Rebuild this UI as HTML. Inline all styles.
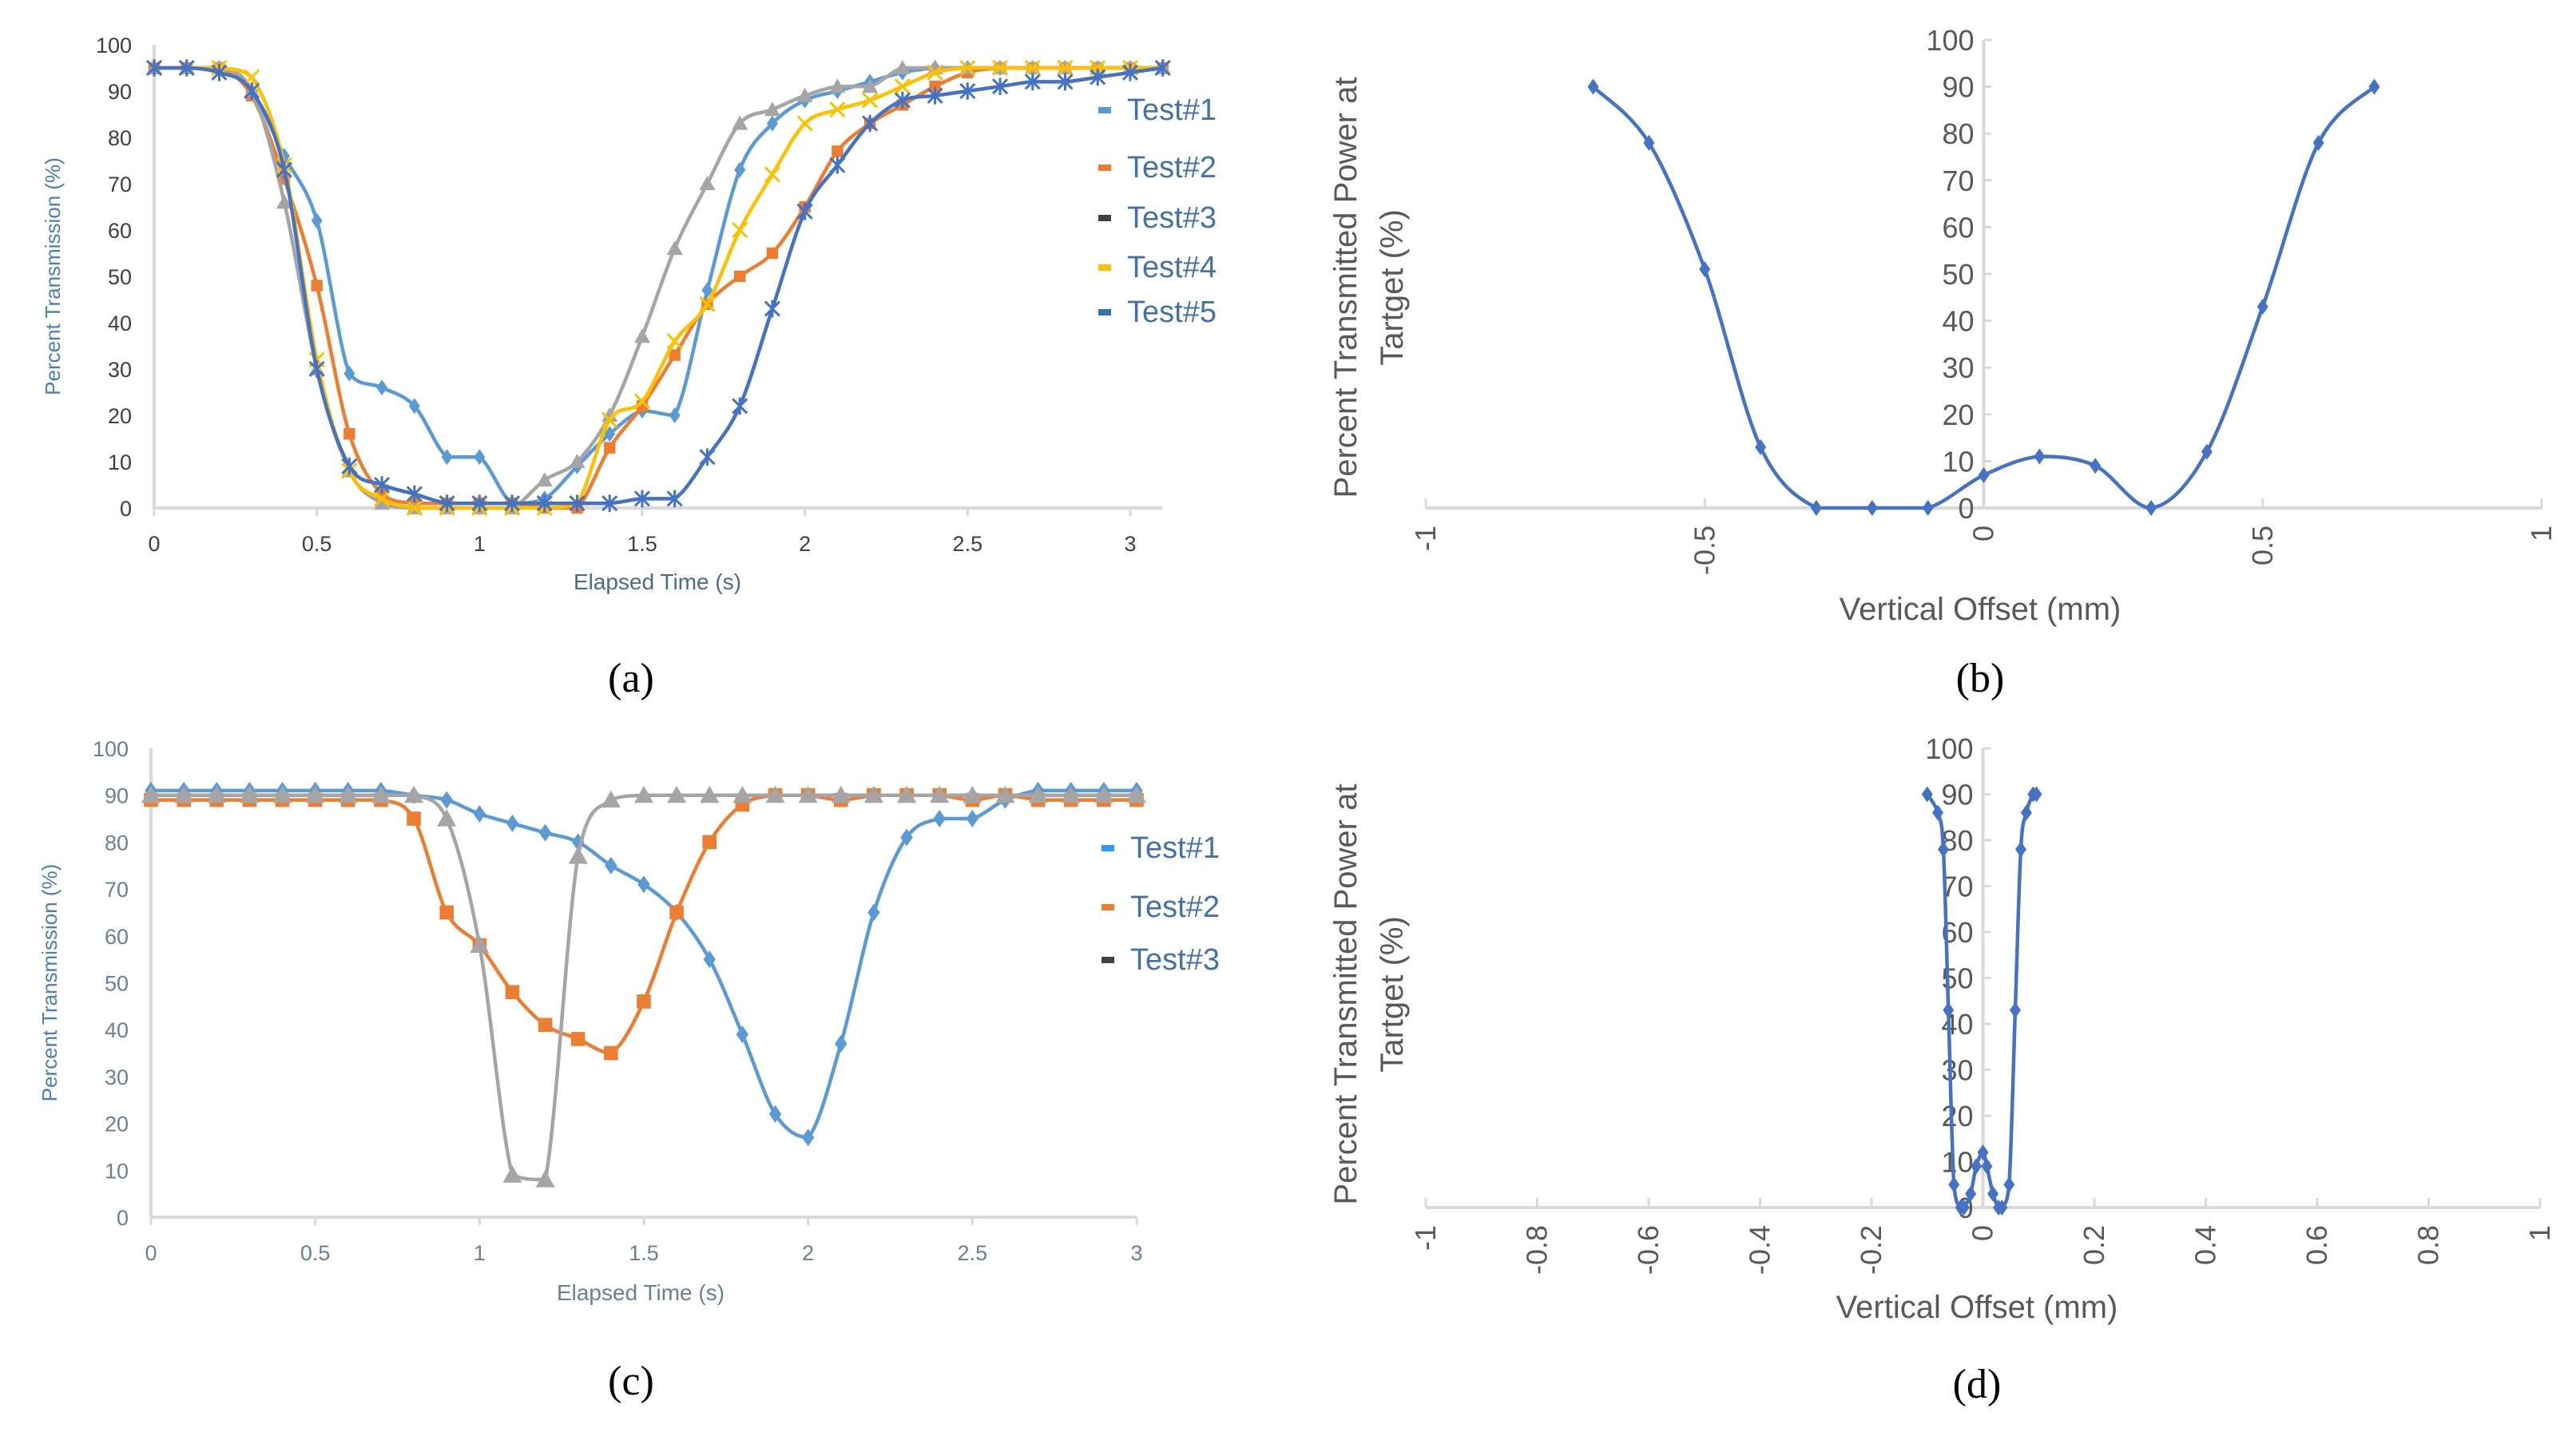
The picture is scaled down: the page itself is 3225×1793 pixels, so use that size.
<!DOCTYPE html>
<html><head><meta charset="utf-8"><style>
html,body{margin:0;padding:0;background:#fff;}
svg{display:block;font-family:"Liberation Sans",sans-serif;}
</style></head><body>
<svg id="fig" width="3225" height="1793" viewBox="0 0 3225 1793" xmlns="http://www.w3.org/2000/svg">
<rect width="3225" height="1793" fill="#fff"/>
</svg>
<script>
// ---- Chart (a) data ----
const aX = [0,0.1,0.2,0.3,0.4,0.5,0.6,0.7,0.8,0.9,1,1.1,1.2,1.3,1.4,1.5,1.6,1.7,1.8,1.9,2,2.1,2.2,2.3,2.4,2.5,2.6,2.7,2.8,2.9,3,3.1];
const aTest1 = [95,95,95,90,76,62,29,26,22,11,11,1,2,9,16,21,20,47,73,83,88,90,92,94,95,95,95,95,95,95,95,95];
const aTest2 = [95,95,95,89,71,48,16,3,1,1,1,1,0,0,13,22,33,44,50,55,65,77,83,87,91,94,95,95,95,95,95,95];
const aTest3 = [95,95,95,90,66,30,8,1,0,0,0,0,6,10,20,37,56,70,83,86,89,91,91,95,95,95,95,95,95,95,95,95];
const aTest4 = [95,95,95,93,74,32,8,2,0,0,0,0,0,1,19,23,36,44,60,72,83,86,88,91,94,95,95,95,95,95,95,95];
const aTest5 = [95,95,94,90,73,30,9,5,3,1,1,1,1,1,1,2,2,11,22,43,64,74,83,88,89,90,91,92,92,93,94,95];
const aXTicks = ["0","0.5","1","1.5","2","2.5","3"];
const aYTicks = ["0","10","20","30","40","50","60","70","80","90","100"];
// ---- Chart (b) data ----
const bX = [-0.7,-0.6,-0.5,-0.4,-0.3,-0.2,-0.1,0,0.1,0.2,0.3,0.4,0.5,0.6,0.7];
const bY = [90,78,51,13,0,0,0,7,11,9,0,12,43,78,90];
const bXTicks = ["-1","-0.5","0","0.5","1"];
// ---- Chart (c) data ----
const cX = [0,0.1,0.2,0.3,0.4,0.5,0.6,0.7,0.8,0.9,1,1.1,1.2,1.3,1.4,1.5,1.6,1.7,1.8,1.9,2,2.1,2.2,2.3,2.4,2.5,2.6,2.7,2.8,2.9,3];
const cTest1 = [91,91,91,91,91,91,91,91,90,89,86,84,82,80,75,71,65,55,39,22,17,37,65,81,85,85,89,91,91,91,91];
const cTest2 = [89,89,89,89,89,89,89,89,85,65,58,48,41,38,35,46,65,80,88,90,90,89,90,90,90,89,90,89,89,89,89];
const cTest3 = [90,90,90,90,90,90,90,90,90,85,58,9,8,77,89,90,90,90,90,90,90,90,90,90,90,90,90,90,90,90,90];
// ---- Chart (d) data ----
const dX = [-0.1,-0.081,-0.071,-0.062,-0.052,-0.04,-0.034,-0.022,-0.012,0,0.007,0.018,0.028,0.034,0.047,0.058,0.068,0.078,0.09,0.096];
const dY = [90,86,78,43,5,0,0,3,9,12,9,3,0,0,5,43,78,86,90,90];
const dXTicks = ["-1","-0.8","-0.6","-0.4","-0.2","0","0.2","0.4","0.6","0.8","1"];

const NS="http://www.w3.org/2000/svg";
const svg=document.getElementById('fig');
function mk(tag,attrs,parent,text){const e=document.createElementNS(NS,tag);for(const k in attrs)e.setAttribute(k,attrs[k]);if(text!==undefined)e.textContent=text;(parent||svg).appendChild(e);return e;}
function lin(d0,d1,r0,r1){return v=>r0+(v-d0)*(r1-r0)/(d1-d0);}
function clamp(v,a,b){const lo=Math.min(a,b),hi=Math.max(a,b);return Math.max(lo,Math.min(hi,v));}
function smooth(pts){
  if(pts.length<2)return '';
  let d='M'+pts[0][0]+','+pts[0][1];
  for(let i=0;i<pts.length-1;i++){
    const p0=pts[i-1]||pts[i],p1=pts[i],p2=pts[i+1],p3=pts[i+2]||p2;
    const t=0.5/3;
    const c1=[p1[0]+(p2[0]-p0[0])*t,clamp(p1[1]+(p2[1]-p0[1])*t,p1[1],p2[1])];
    const c2=[p2[0]-(p3[0]-p1[0])*t,clamp(p2[1]-(p3[1]-p1[1])*t,p1[1],p2[1])];
    d+=' C'+c1[0]+','+c1[1]+' '+c2[0]+','+c2[1]+' '+p2[0]+','+p2[1];
  }
  return d;
}
function marker(g,type,x,y,col,s){
  let e;
  if(type==='diamond'){e=mk('path',{d:`M${x},${y-s} L${x+s*0.7},${y} L${x},${y+s} L${x-s*0.7},${y} Z`,fill:col},g);}
  else if(type==='square'){e=mk('rect',{x:x-s*0.8,y:y-s*0.8,width:s*1.6,height:s*1.6,fill:col},g);}
  else if(type==='triangle'){e=mk('path',{d:`M${x},${y-s} L${x+s},${y+s*0.8} L${x-s},${y+s*0.8} Z`,fill:col},g);}
  else if(type==='x'){e=mk('path',{d:`M${x-s},${y-s} L${x+s},${y+s} M${x+s},${y-s} L${x-s},${y+s}`,stroke:col,'stroke-width':3,fill:'none'},g);}
  else if(type==='star'){e=mk('path',{d:`M${x-s},${y-s} L${x+s},${y+s} M${x+s},${y-s} L${x-s},${y+s} M${x},${y-s*1.2} L${x},${y+s*1.2}`,stroke:col,'stroke-width':3,fill:'none'},g);}
  
  
}
function series(g,xs,ys,X,Y,col,mtype,ms,name){
  const pts=xs.map((v,i)=>[X(v),Y(ys[i])]);
  const sg=mk('g',{},g);
  
  
  const p=mk('path',{d:smooth(pts),fill:'none',stroke:col,'stroke-width':4.5,'stroke-linejoin':'round'},sg);
  
  
  pts.forEach(q=>marker(sg,mtype,q[0],q[1],col,ms));
}
function timeChart(cfg){
  const g=mk('g',{});
  
  
  const X=lin(0,3,cfg.x0,cfg.x3),Y=lin(0,100,cfg.y0,cfg.y100);
  const ax=mk('line',{x1:cfg.x0,x2:X(cfg.xmax),y1:cfg.y0,y2:cfg.y0,stroke:'#d9d9d9','stroke-width':4},g);
  
  const ay=mk('line',{x1:cfg.x0,x2:cfg.x0,y1:cfg.y0,y2:cfg.y100,stroke:'#d9d9d9','stroke-width':4},g);
  
  aXTicks.forEach(t=>{
    const x=X(parseFloat(t));
    mk('line',{x1:x,x2:x,y1:cfg.y0,y2:cfg.y0+10,stroke:'#d9d9d9','stroke-width':3},g);
    const e=mk('text',{x:x,y:cfg.y0+54,'text-anchor':'middle','font-size':27,fill:cfg.tickCol},g,t);
    
  });
  aYTicks.forEach(t=>{
    const y=Y(parseFloat(t));
    const e=mk('text',{x:cfg.x0-28,y:y+10,'text-anchor':'end','font-size':27,fill:cfg.tickCol},g,t);
    
  });
  const yt=mk('text',{x:0,y:0,transform:`translate(${cfg.x0-118},${(cfg.y0+cfg.y100)/2}) rotate(-90)`,'text-anchor':'middle','font-size':26,fill:'#4a7ebb'},g,'Percent Transmission (%)');
  
  const xt=mk('text',{x:cfg.xtX,y:cfg.xtY,'text-anchor':'middle','font-size':28,fill:cfg.xTitleCol},g,'Elapsed Time (s)');
  
  cfg.series.forEach(s=>series(g,cfg.xs,s.ys,X,Y,s.col,s.m,s.ms,s.name));
  cfg.series.forEach((s,i)=>{
    const ly=cfg.legY[i];
    const lg=mk('g',{},g);
    
    mk('rect',{x:cfg.legX-36,y:ly-16,width:16,height:8,fill:s.legCol||s.col},lg);
    mk('text',{x:cfg.legX,y:ly,'font-size':38,fill:'#4472a8'},lg,s.label);
  });
  const cap=mk('text',{x:cfg.capX,y:cfg.capY,'text-anchor':'middle','font-size':52,'font-family':'Liberation Serif, serif',fill:'#000'},svg,cfg.cap);
  
}
timeChart({name:'chart-a',x0:193,x3:1415,y0:636,y100:56,xmax:3.1,xs:aX,tickCol:'#404040',xTitleCol:'#4a6a90',
  xtX:823,xtY:738,legX:1411,legY:[150,222,285,347,403],capX:790,capY:866,cap:'(a)',
  series:[
   {ys:aTest1,col:'#5b9bd5',m:'diamond',ms:10,name:'test1-series',label:'Test#1'},
   {ys:aTest2,col:'#ed7d31',m:'square',ms:9,name:'test2-series',label:'Test#2'},
   {ys:aTest3,col:'#a5a5a5',m:'triangle',ms:10,name:'test3-series',label:'Test#3',legCol:'#404040'},
   {ys:aTest4,col:'#ffc000',m:'x',ms:9,name:'test4-series',label:'Test#4'},
   {ys:aTest5,col:'#4472c4',m:'star',ms:9,name:'test5-series',label:'Test#5',legCol:'#2e75b6'}]});
timeChart({name:'chart-c',x0:189,x3:1423,y0:1524,y100:937,xmax:3,xs:cX,tickCol:'#6b7f95',xTitleCol:'#6b7f95',
  xtX:802,xtY:1628,legX:1415,legY:[1074,1148,1214],capX:790,capY:1746,cap:'(c)',
  series:[
   {ys:cTest1,col:'#5b9bd5',m:'diamond',ms:11,name:'test1-series',label:'Test#1',legCol:'#2e9bf0'},
   {ys:cTest2,col:'#ed7d31',m:'square',ms:11,name:'test2-series',label:'Test#2'},
   {ys:cTest3,col:'#a5a5a5',m:'triangle',ms:12,name:'test3-series',label:'Test#3',legCol:'#404040'}]});

function offsetChart(cfg){
  const g=mk('g',{});
  
  
  const X=lin(-1,1,cfg.xm1,cfg.x1),Y=lin(0,100,cfg.y0,cfg.y100);
  const x0=X(0);
  const ax=mk('line',{x1:cfg.xm1,x2:cfg.x1,y1:cfg.y0,y2:cfg.y0,stroke:'#d9d9d9','stroke-width':4},g);
  
  const ay=mk('line',{x1:x0,x2:x0,y1:cfg.y0,y2:cfg.y100,stroke:'#d9d9d9','stroke-width':4},g);
  
  cfg.xticks.forEach(t=>{
    const x=X(parseFloat(t));
    mk('line',{x1:x,x2:x,y1:cfg.y0,y2:cfg.y0-12,stroke:'#d9d9d9','stroke-width':3},g);
    const e=mk('text',{x:0,y:0,transform:`translate(${x+12},${cfg.y0+22}) rotate(-90)`,'text-anchor':'end','font-size':36,fill:'#595959'},g,t);
    
  });
  aYTicks.forEach(t=>{
    const y=Y(parseFloat(t));
    mk('line',{x1:x0,x2:x0+10,y1:y,y2:y,stroke:'#d9d9d9','stroke-width':3},g);
    const e=mk('text',{x:x0-12,y:y+13,'text-anchor':'end','font-size':36,fill:'#595959'},g,t);
    
  });
  const yt=mk('text',{x:0,y:0,transform:`translate(${cfg.ytX},${cfg.ytY}) rotate(-90)`,'text-anchor':'middle','font-size':40,fill:'#595959'},g);
  
  mk('tspan',{x:0,dy:0},yt,'Percent Transmitted Power at');
  mk('tspan',{x:0,dy:58},yt,'Tartget (%)');
  const xt=mk('text',{x:cfg.xtX,y:cfg.xtY,'text-anchor':'middle','font-size':40,fill:'#595959'},g,'Vertical Offset (mm)');
  
  series(g,cfg.xs,cfg.ys,X,Y,'#4472c4','diamond',cfg.ms,'offset-series');
  const cap=mk('text',{x:cfg.capX,y:cfg.capY,'text-anchor':'middle','font-size':52,'font-family':'Liberation Serif, serif',fill:'#000'},svg,cfg.cap);
  
}
offsetChart({name:'chart-b',xm1:1785,x1:3182,y0:636,y100:50,xticks:bXTicks,xs:bX,ys:bY,ms:10,
  ytX:1698,ytY:360,xtX:2479,xtY:776,capX:2479,capY:866,cap:'(b)'});
offsetChart({name:'chart-d',xm1:1785,x1:3180,y0:1512,y100:937,xticks:dXTicks,xs:dX,ys:dY,ms:10,
  ytX:1698,ytY:1245,xtX:2475,xtY:1650,capX:2475,capY:1750,cap:'(d)'});
</script>
</body></html>
